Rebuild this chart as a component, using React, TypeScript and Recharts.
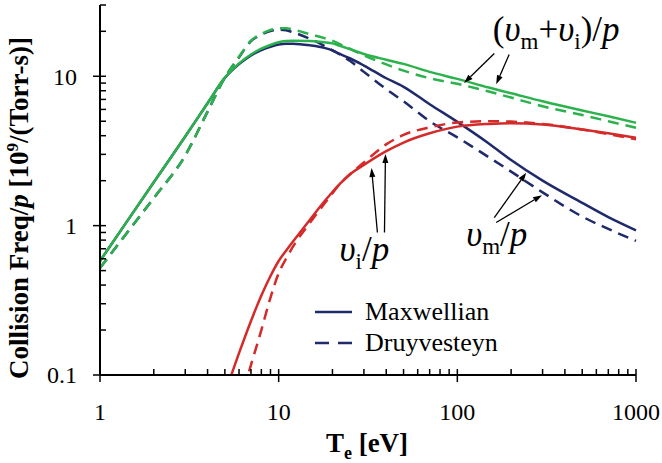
import React from "react";
import {
  LineChart,
  Line,
  XAxis,
  YAxis,
  ReferenceLine,
  ReferenceDot,
  Legend,
  Label,
} from "recharts";

const FONT = '"Liberation Serif", "Times New Roman", serif';
const GREEN = "#2bb24c";
const NAVY = "#1f2a6b";
const RED = "#d42a2a";

// electron temperature [eV]
const te = [1, 1.5, 2, 3, 4, 5, 6, 7, 8, 9, 10, 11, 12, 15, 18, 20, 22, 25, 30, 40, 50, 70, 100, 150, 200, 300, 500, 700, 1000];

// (vm + vi)/p
const totMax = [0.58, 1.18, 1.95, 3.95, 6.6, 9.8, 12.2, 14.0, 15.3, 16.2, 16.9, 17.2, 17.3, 17.2, 16.9, 16.6, 16.0, 15.2, 14.1, 12.9, 12.1, 10.7, 9.6, 8.4, 7.7, 6.8, 5.9, 5.4, 4.88];
const totDru = [0.52, 0.98, 1.53, 2.95, 5.8, 9.8, 13.5, 17.3, 19.2, 20.4, 21.0, 21.0, 20.6, 19.1, 18.0, 17.3, 16.4, 15.3, 13.8, 12.0, 10.9, 9.7, 8.9, 7.9, 7.2, 6.3, 5.5, 5.0, 4.52];

// vm/p
const mMax = [0.58, 1.18, 1.95, 3.95, 6.6, 9.75, 12.05, 13.8, 14.95, 15.75, 16.3, 16.5, 16.5, 16.1, 15.5, 14.9, 14.1, 13.2, 11.8, 9.7, 8.5, 6.5, 4.95, 3.55, 2.75, 2.0, 1.42, 1.14, 0.93];
const mDru = [0.52, 0.98, 1.53, 2.95, 5.8, 9.8, 13.4, 17.2, 19.0, 20.1, 20.5, 20.3, 19.7, 17.8, 16.0, 14.9, 14.0, 12.7, 10.7, 8.2, 6.8, 5.0, 3.9, 2.87, 2.3, 1.67, 1.15, 0.95, 0.79];

// vi/p
const iMax = [null, null, null, null, null, 0.075, 0.14, 0.23, 0.34, 0.46, 0.58, 0.68, 0.78, 1.1, 1.45, 1.68, 1.9, 2.2, 2.55, 3.15, 3.6, 4.15, 4.6, 4.8, 4.85, 4.75, 4.4, 4.15, 3.88];
const iDru = [null, null, null, null, null, null, 0.062, 0.117, 0.2, 0.33, 0.48, 0.6, 0.72, 1.05, 1.4, 1.65, 1.9, 2.2, 2.65, 3.5, 4.05, 4.55, 4.9, 5.0, 4.97, 4.8, 4.4, 4.1, 3.78];

const xTicks = [1, 2, 3, 4, 5, 6, 7, 8, 9, 10, 20, 30, 40, 50, 60, 70, 80, 90, 100, 200, 300, 400, 500, 600, 700, 800, 900, 1000];
const yTicks = [0.1, 0.2, 0.3, 0.4, 0.5, 0.6, 0.7, 0.8, 0.9, 1, 2, 3, 4, 5, 6, 7, 8, 9, 10, 20, 30];

const data = te.map((t, i) => ({
  te: t,
  totMax: totMax[i],
  totDru: totDru[i],
  mMax: mMax[i],
  mDru: mDru[i],
  iMax: iMax[i],
  iDru: iDru[i],
}));

// arrows: [from, to] in data coordinates
const arrows = [
  [[161, 14.2], [109, 9.0]],
  [[195, 14.0], [165, 8.85]],
  [[161, 1.13], [243, 2.26]],
  [[165, 1.05], [298, 1.6]],
  [[35.7, 0.9], [33.1, 2.43]],
  [[39.1, 0.9], [39.6, 3.02]],
];

const isMajor = (v: number) => Math.abs(Math.log10(v) - Math.round(Math.log10(v))) < 1e-6;

const XTick = (props: any) => {
  const { x, y, payload } = props;
  const major = isMajor(payload.value);
  return (
    <g>
      <line x1={x} x2={x} y1={y - 6} y2={major ? y + 7 : y} stroke="#000" strokeWidth={1.5} />
      {major && (
        <text x={x} y={y + 45} textAnchor="middle" fontSize={24} fontFamily={FONT} fill="#000">
          {String(payload.value)}
        </text>
      )}
    </g>
  );
};

const YTick = (props: any) => {
  const { x, y, payload } = props;
  const major = isMajor(payload.value);
  return (
    <g>
      <line x1={major ? x - 7 : x} x2={x + 6} y1={y} y2={y} stroke="#000" strokeWidth={1.5} />
      {major && (
        <text x={x - 23} y={y} dy="0.35em" textAnchor="end" fontSize={24} fontFamily={FONT} fill="#000">
          {String(payload.value)}
        </text>
      )}
    </g>
  );
};

const Arrow = (props: any) => {
  const { x1, y1, x2, y2 } = props;
  const a = Math.atan2(y2 - y1, x2 - x1);
  const len = 9;
  const w = 3;
  const bx = x2 - len * Math.cos(a);
  const by = y2 - len * Math.sin(a);
  const px = -Math.sin(a) * w;
  const py = Math.cos(a) * w;
  return (
    <g>
      <line x1={x1} y1={y1} x2={bx} y2={by} stroke="#000" strokeWidth={1.3} />
      <polygon points={`${x2},${y2} ${bx + px},${by + py} ${bx - px},${by - py}`} fill="#000" />
    </g>
  );
};

const ANN = 35;
const SUB = 23;
const SUB_DY = 8;

const totText = (p: any) => (
  <text x={p.cx} y={p.cy} fontFamily={FONT} fontSize={ANN} fill="#000">
    (<tspan fontStyle="italic">υ</tspan>
    <tspan fontSize={SUB} dy={SUB_DY}>m</tspan>
    <tspan dy={-SUB_DY}>+</tspan>
    <tspan fontStyle="italic">υ</tspan>
    <tspan fontSize={SUB} dy={SUB_DY}>i</tspan>
    <tspan dy={-SUB_DY}>)/</tspan>
    <tspan fontStyle="italic">p</tspan>
  </text>
);

const mText = (p: any) => (
  <text x={p.cx} y={p.cy} fontFamily={FONT} fontSize={ANN} fill="#000">
    <tspan fontStyle="italic">υ</tspan>
    <tspan fontSize={SUB} dy={SUB_DY}>m</tspan>
    <tspan dy={-SUB_DY}>/</tspan>
    <tspan fontStyle="italic">p</tspan>
  </text>
);

const iText = (p: any) => (
  <text x={p.cx} y={p.cy} fontFamily={FONT} fontSize={ANN} fill="#000">
    <tspan fontStyle="italic">υ</tspan>
    <tspan fontSize={SUB} dy={SUB_DY}>i</tspan>
    <tspan dy={-SUB_DY}>/</tspan>
    <tspan fontStyle="italic">p</tspan>
  </text>
);

const renderLegend = () => (
  <svg width={200} height={60} style={{ overflow: "visible", display: "block" }}>
    <line x1={0} x2={37} y1={14} y2={14} stroke={NAVY} strokeWidth={2.5} />
    <text x={50} y={22} fontSize={26} fontFamily={FONT} fill="#000">Maxwellian</text>
    <line x1={0} x2={37} y1={45} y2={45} stroke={NAVY} strokeWidth={2.5} strokeDasharray="14 9" />
    <text x={50} y={53} fontSize={26} fontFamily={FONT} fill="#000">Druyvesteyn</text>
  </svg>
);

const yLabel = () => (
  <text
    transform="translate(28,208) rotate(-90)"
    textAnchor="middle"
    fontFamily={FONT}
    fontWeight="bold"
    fontSize={27}
    fill="#000"
  >
    Collision Freq/<tspan fontStyle="italic">p</tspan> [10<tspan dy={-10} fontSize={17}>9</tspan>
    <tspan dy={10}>/(Torr-s)]</tspan>
  </text>
);

const xLabel = () => (
  <text x={367} y={452} textAnchor="middle" fontFamily={FONT} fontWeight="bold" fontSize={27} fill="#000">
    T<tspan dy={7} fontSize={18}>e</tspan>
    <tspan dy={-7}> [eV]</tspan>
  </text>
);

export default function App() {
  const lineCommon = { dot: false, isAnimationActive: false, type: "monotone" as const, strokeWidth: 2.5 };
  return (
    <div style={{ position: "absolute", left: 0, top: 0, width: 662, height: 463, background: "#fff" }}>
      <LineChart width={662} height={463} data={data} margin={{ top: 5, right: 26, bottom: 38, left: 40 }}>
        <XAxis
          dataKey="te"
          type="number"
          scale="log"
          domain={[1, 1000]}
          ticks={xTicks}
          interval={0}
          tick={<XTick />}
          tickLine={false}
          tickSize={0}
          tickMargin={0}
          height={50}
          axisLine={{ stroke: "#000", strokeWidth: 2 }}
        >
          <Label content={xLabel} />
        </XAxis>
        <YAxis
          type="number"
          scale="log"
          domain={[0.1, 30]}
          allowDataOverflow
          ticks={yTicks}
          interval={0}
          tick={<YTick />}
          tickLine={false}
          tickSize={0}
          tickMargin={0}
          width={60}
          axisLine={{ stroke: "#000", strokeWidth: 2 }}
        >
          <Label content={yLabel} />
        </YAxis>
        <Line dataKey="mMax" stroke={NAVY} {...lineCommon} />
        <Line dataKey="mDru" stroke={NAVY} strokeDasharray="11 7" {...lineCommon} />
        <Line dataKey="iMax" stroke={RED} {...lineCommon} />
        <Line dataKey="iDru" stroke={RED} strokeDasharray="11 7" {...lineCommon} />
        <Line dataKey="totMax" stroke={GREEN} {...lineCommon} />
        <Line dataKey="totDru" stroke={GREEN} strokeDasharray="11 7" {...lineCommon} />
        {arrows.map((seg, i) => (
          <ReferenceLine
            key={i}
            segment={[
              { x: seg[0][0], y: seg[0][1] },
              { x: seg[1][0], y: seg[1][1] },
            ]}
            shape={<Arrow />}
          />
        ))}
        <ReferenceDot x={158} y={17.1} r={0} shape={totText} />
        <ReferenceDot x={112} y={0.736} r={0} shape={mText} />
        <ReferenceDot x={21.9} y={0.584} r={0} shape={iText} />
        <Legend
          layout="vertical"
          align="center"
          verticalAlign="middle"
          content={renderLegend}
          wrapperStyle={{ left: 315, top: 298, width: 200, height: 60 }}
        />
      </LineChart>
    </div>
  );
}
